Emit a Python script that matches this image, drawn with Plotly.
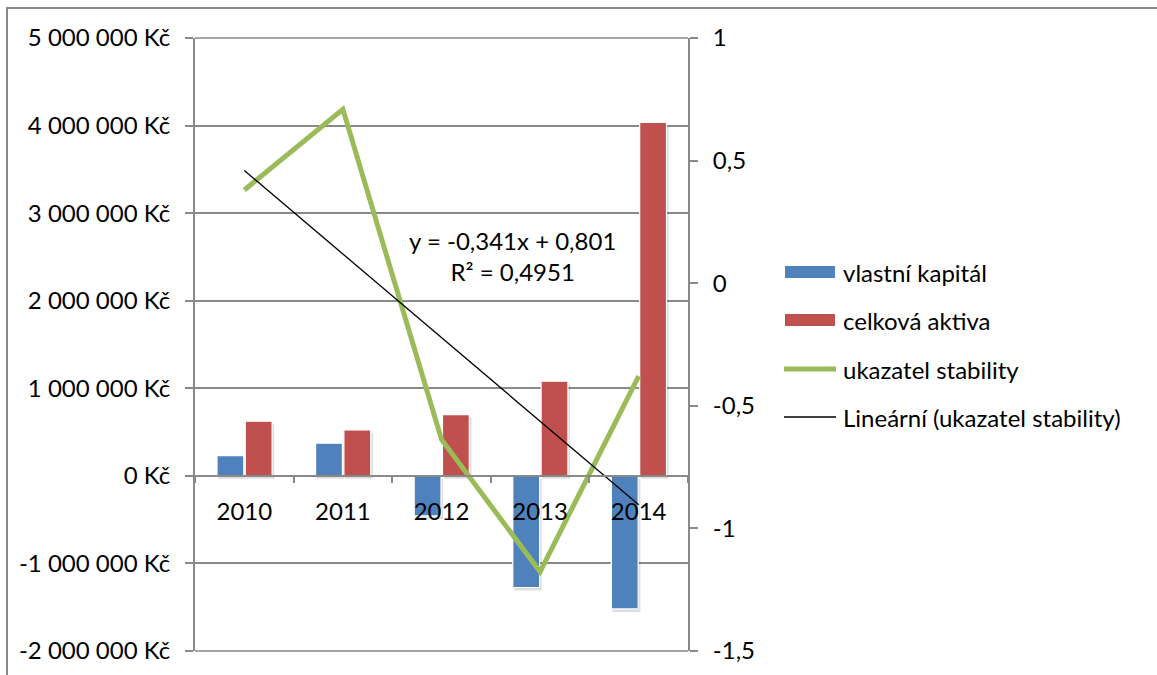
import plotly.graph_objects as go

# ---- data ----
years = ["2010", "2011", "2012", "2013", "2014"]
vlastni_kapital = [232000, 373000, -457000, -1275000, -1519000]
celkova_aktiva = [625000, 525000, 700000, 1081000, 4035000]
ukazatel_stability = [0.380, 0.709, -0.637, -1.177, -0.379]

trend_slope = -0.341
trend_intercept = 0.801
trend_r2 = "0,4951"

left_tickvals = [-2000000, -1000000, 0, 1000000, 2000000, 3000000, 4000000, 5000000]
left_ticktext = ["-2 000 000 Kč", "-1 000 000 Kč", "0 Kč", "1 000 000 Kč",
                 "2 000 000 Kč", "3 000 000 Kč", "4 000 000 Kč", "5 000 000 Kč"]
right_tickvals = [-1.5, -1, -0.5, 0, 0.5, 1]
right_ticktext = ["-1,5", "-1", "-0,5", "0", "0,5", "1"]

legend_names = ["vlastní kapitál", "celková aktiva", "ukazatel stability",
                "Lineární (ukazatel stability)"]

# ---- styling ----
BLUE = "#4F81BD"
RED = "#C0504D"
GREEN = "#9BBB59"
GRID = "#898989"
FONT = "Lato, Calibri, Carlito, sans-serif"
FS = 24

W, H = 1157, 675
L, R, T, B = 195, 688, 38, 651  # plot area in pixels


def px_x(x):
    return (x - L) / (R - L)


def px_y(y):
    return (B - y) / (B - T)


# trendline evaluated at x = 1..n, as Excel does for category charts
trend = [trend_slope * (i + 1) + trend_intercept for i in range(len(years))]

bar_w = 0.272
px_per_unit = (B - T) / 7_000_000  # pixels per Kč on left axis
shadow_dy = 3 / px_per_unit

fig = go.Figure()

# soft shadows under the bars
for vals, off in ((vlastni_kapital, -0.277), (celkova_aktiva, 0.010)):
    fig.add_trace(go.Bar(
        x=years, y=vals, base=[-shadow_dy] * len(vals),
        width=bar_w + 0.01, offset=off + 0.012,
        marker=dict(color="rgba(0,0,0,0.13)", line=dict(width=0)),
        showlegend=False, hoverinfo="skip"))

fig.add_trace(go.Bar(
    x=years, y=vlastni_kapital, name=legend_names[0],
    width=bar_w, offset=-0.277,
    marker=dict(color=BLUE, line=dict(color="white", width=1.2)),
    showlegend=False))
fig.add_trace(go.Bar(
    x=years, y=celkova_aktiva, name=legend_names[1],
    width=bar_w, offset=0.010,
    marker=dict(color=RED, line=dict(color="white", width=1.2)),
    showlegend=False))

fig.add_trace(go.Scatter(
    x=years, y=ukazatel_stability, name=legend_names[2], yaxis="y2",
    mode="lines", line=dict(color=GREEN, width=5), showlegend=False))
fig.add_trace(go.Scatter(
    x=years, y=trend, name=legend_names[3], yaxis="y2",
    mode="lines", line=dict(color="black", width=1.3), showlegend=False))

zero_pos = px_y(B - 2_000_000 * px_per_unit)

fig.update_layout(
    width=W, height=H,
    margin=dict(l=L, r=W - R, t=T, b=H - B, pad=0),
    paper_bgcolor="white", plot_bgcolor="white",
    barmode="overlay",
    font=dict(family=FONT, size=FS, color="black"),
    xaxis=dict(
        type="category", categoryorder="array", categoryarray=years,
        range=[-0.5, len(years) - 0.5],
        anchor="free", position=zero_pos,
        showline=True, linecolor=GRID, linewidth=2,
        ticks="outside", tickson="boundaries", ticklen=6, tickcolor=GRID, tickwidth=1.5,
        showgrid=False, zeroline=False,
        tickfont=dict(family=FONT, size=FS, color="black"),
        ticklabelstandoff=14,
    ),
    yaxis=dict(
        range=[-2_000_000, 5_000_000],
        tickvals=left_tickvals, ticktext=left_ticktext,
        showgrid=True, gridcolor=GRID, gridwidth=1.5,
        showline=True, linecolor=GRID, linewidth=2,
        ticks="outside", ticklen=8, tickcolor=GRID, tickwidth=1.5,
        zeroline=False,
        tickfont=dict(family=FONT, size=FS, color="black"),
        ticklabelstandoff=10,
    ),
    yaxis2=dict(
        range=[-1.5, 1], overlaying="y", side="right",
        tickvals=right_tickvals, ticktext=right_ticktext,
        showgrid=False, zeroline=False,
        showline=True, linecolor=GRID, linewidth=2,
        ticks="outside", ticklen=8, tickcolor=GRID, tickwidth=1.5,
        tickfont=dict(family=FONT, size=FS, color="black"),
        ticklabelstandoff=10,
    ),
    showlegend=False,
)

shapes = []
# top and bottom frame lines of the plot area
for yy in (T, B):
    shapes.append(dict(type="line", xref="paper", yref="paper",
                       x0=0, x1=1, y0=px_y(yy), y1=px_y(yy),
                       line=dict(color=GRID, width=1.5)))
# outer chart border
shapes.append(dict(type="rect", xref="paper", yref="paper",
                   x0=px_x(7), x1=px_x(W + 10), y0=px_y(H + 10), y1=px_y(8),
                   line=dict(color=GRID, width=2)))

# legend
leg_y = [272, 320, 369, 417]
shapes.append(dict(type="rect", xref="paper", yref="paper",
                   x0=px_x(785), x1=px_x(835), y0=px_y(leg_y[0] + 6), y1=px_y(leg_y[0] - 6),
                   fillcolor=BLUE, line=dict(width=0)))
shapes.append(dict(type="rect", xref="paper", yref="paper",
                   x0=px_x(785), x1=px_x(835), y0=px_y(leg_y[1] + 6), y1=px_y(leg_y[1] - 6),
                   fillcolor=RED, line=dict(width=0)))
shapes.append(dict(type="line", xref="paper", yref="paper",
                   x0=px_x(784), x1=px_x(836), y0=px_y(leg_y[2]), y1=px_y(leg_y[2]),
                   line=dict(color=GREEN, width=5)))
shapes.append(dict(type="line", xref="paper", yref="paper",
                   x0=px_x(784), x1=px_x(836), y0=px_y(leg_y[3]), y1=px_y(leg_y[3]),
                   line=dict(color="black", width=1.5)))
fig.update_layout(shapes=shapes)

annotations = []
for name, yy in zip(legend_names, leg_y):
    annotations.append(dict(
        text=name, xref="paper", yref="paper", x=px_x(841), y=px_y(yy),
        xanchor="left", yanchor="middle", showarrow=False,
        font=dict(family=FONT, size=FS, color="black")))

# trendline equation
eq = (f"y = {trend_slope:.3f}x + {trend_intercept:.3f}".replace(".", ",")
      + f"<br>R² = {trend_r2}")
annotations.append(dict(
    text=eq, xref="paper", yref="paper", x=px_x(512), y=px_y(256),
    xanchor="center", yanchor="middle", align="center", showarrow=False,
    font=dict(family=FONT, size=FS, color="black")))
fig.update_layout(annotations=annotations)

fig.write_html("out.html")
